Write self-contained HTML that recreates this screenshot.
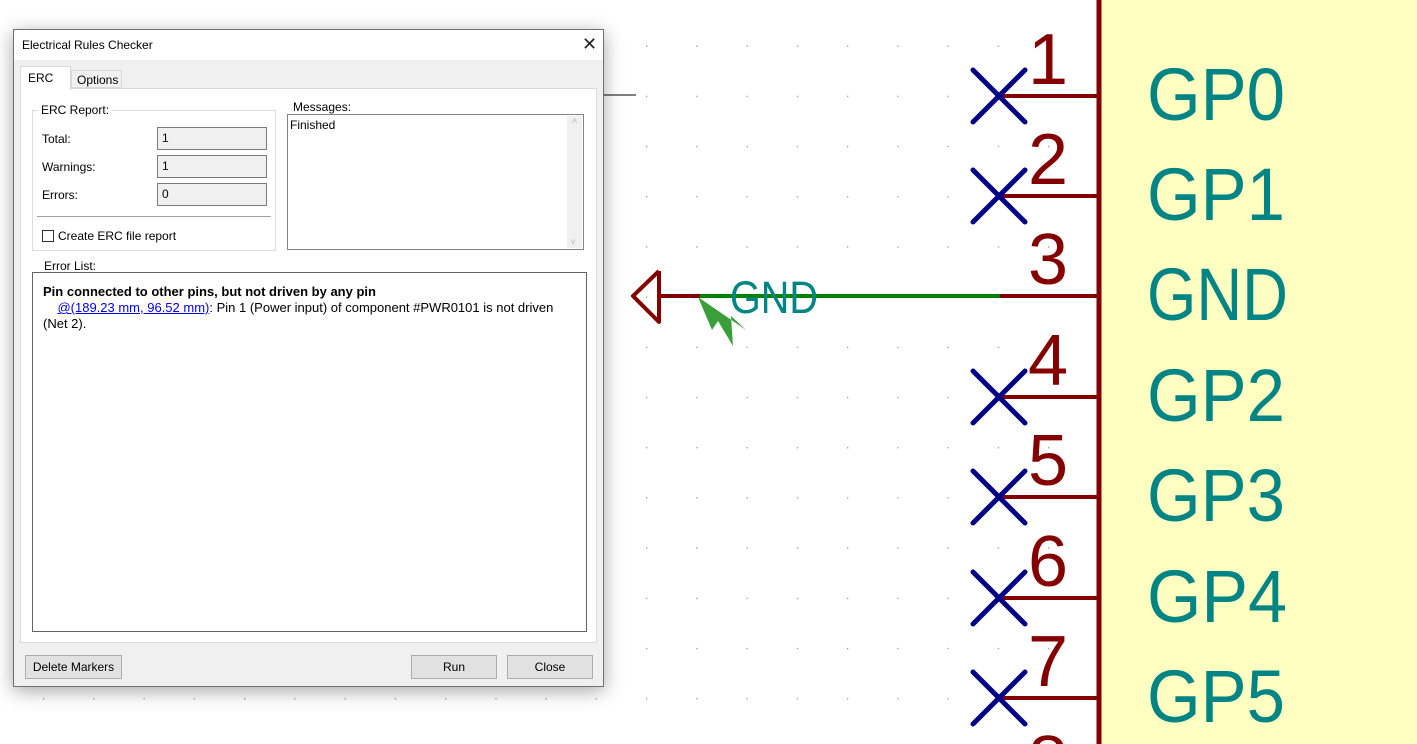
<!DOCTYPE html>
<html><head><meta charset="utf-8"><style>
*{margin:0;padding:0;box-sizing:border-box}
html,body{width:1417px;height:744px;overflow:hidden}
body{background:#fff;position:relative;font-family:"Liberation Sans",sans-serif;font-size:12px;color:#000}
svg.sch{position:absolute;left:0;top:0}
.dlg{position:absolute;left:13px;top:29px;width:591px;height:658px;background:#f0f0f0;border:1px solid #707070;box-shadow:0 4px 18px rgba(0,0,0,.35)}
.a{position:absolute}
.title{left:0;top:0;width:589px;height:30px;background:#fff}
.fld{background:#f0f0f0;border:1px solid #7a7a7a;height:23px;padding:3px 0 0 4px}
.btn{background:#e1e1e1;border:1px solid #adadad;height:24px;text-align:center;line-height:22px}
</style></head><body>
<svg class="sch" width="1417" height="744" xmlns="http://www.w3.org/2000/svg">
<defs><pattern id="g" x="43" y="45.5" width="50.25" height="50.2" patternUnits="userSpaceOnUse"><rect width="1.3" height="1.3" fill="#999"/></pattern></defs>
<rect width="1417" height="744" fill="url(#g)"/>
<rect x="1100" y="0" width="317" height="744" fill="#ffffc2"/>
<line x1="1099" y1="0" x2="1099" y2="744" stroke="#840000" stroke-width="5"/>
<line x1="590" y1="95" x2="636" y2="95" stroke="#000" stroke-width="1"/>
<g stroke="#840000" stroke-width="4">
<line x1="1000" y1="96" x2="1097" y2="96"/><line x1="1000" y1="196" x2="1097" y2="196"/>
<line x1="1000" y1="296" x2="1097" y2="296"/><line x1="1000" y1="397" x2="1097" y2="397"/>
<line x1="1000" y1="497" x2="1097" y2="497"/><line x1="1000" y1="598" x2="1097" y2="598"/>
<line x1="1000" y1="698" x2="1097" y2="698"/>
<line x1="658" y1="296" x2="700" y2="296"/>
<polyline points="659,271 633,296 659,322 659,271" fill="none" stroke-linejoin="round"/>
</g>
<line x1="700" y1="296" x2="1000" y2="296" stroke="#008400" stroke-width="4"/>
<polygon points="698,297 712,330 718,321 733,346 731,316 746,330" fill="#3a9f3a"/>
<g stroke="#000084" stroke-width="5" stroke-linecap="round">
<path d="M973,70l52,52M1025,70l-52,52"/><path d="M973,170l52,52M1025,170l-52,52"/>
<path d="M973,371l52,52M1025,371l-52,52"/><path d="M973,471l52,52M1025,471l-52,52"/>
<path d="M973,572l52,52M1025,572l-52,52"/><path d="M973,672l52,52M1025,672l-52,52"/>
</g>
<g fill="#840000" font-family="Liberation Sans" font-size="72" text-anchor="end">
<text x="1068" y="84">1</text><text x="1068" y="184">2</text><text x="1068" y="284">3</text>
<text x="1068" y="385">4</text><text x="1068" y="485">5</text><text x="1068" y="586">6</text>
<text x="1068" y="686">7</text><text x="1068" y="786">8</text>
</g>
<g fill="#008484" font-family="Liberation Sans" font-size="74">
<text x="1147" y="120" textLength="138" lengthAdjust="spacingAndGlyphs">GP0</text>
<text x="1147" y="220" textLength="138" lengthAdjust="spacingAndGlyphs">GP1</text>
<text x="1147" y="320" textLength="141" lengthAdjust="spacingAndGlyphs">GND</text>
<text x="1147" y="421" textLength="138" lengthAdjust="spacingAndGlyphs">GP2</text>
<text x="1147" y="521" textLength="138" lengthAdjust="spacingAndGlyphs">GP3</text>
<text x="1147" y="622" textLength="140" lengthAdjust="spacingAndGlyphs">GP4</text>
<text x="1147" y="722" textLength="138" lengthAdjust="spacingAndGlyphs">GP5</text>
<text x="730" y="313" font-size="45" textLength="88" lengthAdjust="spacingAndGlyphs">GND</text>
</g>
</svg>
<div class="dlg">
 <div class="a title"><div class="a" style="left:8px;top:8px">Electrical Rules Checker</div>
  <div class="a" style="left:568px;top:4px;font-size:18px;color:#222">✕</div></div>
 <div class="a" style="left:6px;top:58px;width:577px;height:555px;background:#fff;border:1px solid #d9d9d9"></div>
 <div class="a" style="left:6px;top:36px;width:51px;height:24px;background:#fff;border:1px solid #d9d9d9;border-bottom:none;padding:4px 0 0 7px">ERC</div>
 <div class="a" style="left:57px;top:40px;width:51px;height:18px;background:#f0f0f0;border:1px solid #d9d9d9;padding:2px 0 0 5px">Options</div>
 <div class="a" style="left:18px;top:80px;width:244px;height:141px;border:1px solid #dcdcdc"></div>
 <div class="a" style="left:24px;top:73px;background:#fff;padding:0 3px">ERC Report:</div>
 <div class="a" style="left:28px;top:102px">Total:</div>
 <div class="a" style="left:28px;top:130px">Warnings:</div>
 <div class="a" style="left:28px;top:158px">Errors:</div>
 <div class="a fld" style="left:143px;top:97px;width:110px">1</div>
 <div class="a fld" style="left:143px;top:125px;width:110px">1</div>
 <div class="a fld" style="left:143px;top:153px;width:110px">0</div>
 <div class="a" style="left:23px;top:186px;width:234px;height:1px;background:#a0a0a0"></div>
 <div class="a" style="left:28px;top:200px;width:12px;height:12px;border:1px solid #333;background:#fff"></div>
 <div class="a" style="left:44px;top:199px">Create ERC file report</div>
 <div class="a" style="left:279px;top:70px">Messages:</div>
 <div class="a" style="left:273px;top:84px;width:297px;height:136px;border:1px solid #828282;background:#fff;padding:3px 0 0 2px">Finished
  <div class="a" style="right:1px;top:1px;width:15px;height:132px;background:#f0f0f0;color:#bbb;font-size:10px;text-align:center">˄<div class="a" style="bottom:0;left:3px">˅</div></div></div>
 <div class="a" style="left:30px;top:229px">Error List:</div>
 <div class="a" style="left:18px;top:242px;width:555px;height:360px;border:1px solid #646464;background:#fff;font-size:13px;line-height:16px;padding:11px 0 0 10px">
  <b>Pin connected to other pins, but not driven by any pin</b><br>
  &nbsp;&nbsp;&nbsp;&nbsp;<span style="color:#00e;text-decoration:underline">@(189.23 mm, 96.52 mm)</span>: Pin 1 (Power input) of component #PWR0101 is not driven<br>(Net 2).</div>
 <div class="a btn" style="left:11px;top:625px;width:97px">Delete Markers</div>
 <div class="a btn" style="left:397px;top:625px;width:86px">Run</div>
 <div class="a btn" style="left:493px;top:625px;width:86px">Close</div>
</div>
</body></html>
